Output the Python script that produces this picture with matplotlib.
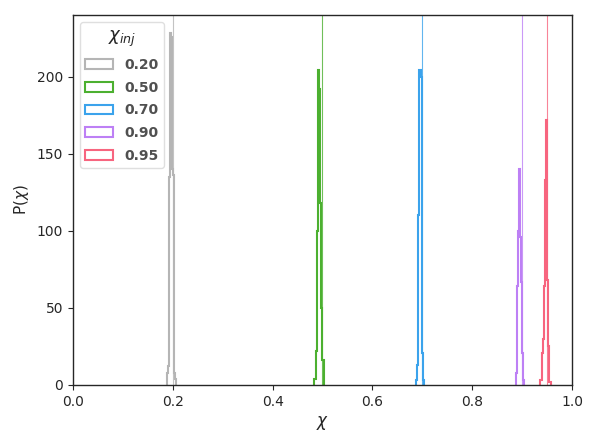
import numpy as np
import matplotlib
matplotlib.use("Agg")
import matplotlib.pyplot as plt
import seaborn as sns

sns.set_style("ticks")
plt.rcParams['font.family'] = ['DejaVu Sans']

chi_inj = [0.20, 0.50, 0.70, 0.90, 0.95]
labels = ["0.20", "0.50", "0.70", "0.90", "0.95"]
colors = ["#b5b5b5", "#4cb030", "#3ba3ec", "#bd80f5", "#f7657f"]

edges_020 = [0.188, 0.190, 0.192, 0.194, 0.196, 0.198, 0.200, 0.202, 0.204, 0.206]
dens_020 = [8, 12, 135, 228, 226, 140, 136, 8, 4]

edges_050 = [0.4835, 0.4865, 0.489, 0.4915, 0.4935, 0.4955, 0.4975, 0.4995, 0.5025]
dens_050 = [4, 22, 100, 204, 192, 118, 50, 16]

edges_070 = [0.6875, 0.689, 0.6905, 0.692, 0.694, 0.6965, 0.6985, 0.700, 0.7015, 0.703]
dens_070 = [3, 13, 39, 110, 204, 200, 104, 21, 3]

edges_090 = [0.8875, 0.889, 0.8905, 0.892, 0.8935, 0.895, 0.8965, 0.898, 0.8995, 0.901, 0.9025, 0.904]
dens_090 = [8, 21, 64, 100, 140, 138, 96, 67, 21, 8, 3]

edges_095 = [0.9365, 0.9395, 0.9415, 0.9435, 0.9455, 0.9475, 0.9505, 0.9525, 0.954, 0.957]
dens_095 = [3, 21, 30, 64, 133, 172, 68, 25, 2]

all_edges = [edges_020, edges_050, edges_070, edges_090, edges_095]
all_dens = [dens_020, dens_050, dens_070, dens_090, dens_095]

fig = plt.figure(figsize=(5.92, 4.46), dpi=100)
ax = fig.add_axes([0.1233, 0.1368, 0.9662 - 0.1233, 0.9664 - 0.1368])

for e, d, c, lab, v in zip(all_edges, all_dens, colors, labels, chi_inj):
    e = np.asarray(e)
    centers = 0.5 * (e[:-1] + e[1:])
    ax.hist(centers, bins=e, weights=d, histtype='step', color=c, lw=1.5, label=lab)
    ax.axvline(v, color=c, lw=0.8, alpha=0.8)

ax.set_xlim(0, 1)
ax.set_ylim(0, 240)
ax.set_xticks([0.0, 0.2, 0.4, 0.6, 0.8, 1.0])
ax.set_yticks([0, 50, 100, 150, 200])
ax.tick_params(labelsize=10, colors='#262626')
ax.set_xlabel(r"$\chi$", fontsize=12, color='#262626')
ax.set_ylabel(r"P($\chi$)", fontsize=11, color='#262626')
for s in ax.spines.values():
    s.set_color('#262626')
    s.set_linewidth(1.0)

leg = ax.legend(title=r"$\chi_{inj}$", loc='upper left', fontsize=10,
                title_fontsize=13, frameon=True, fancybox=True,
                borderaxespad=0.5, handlelength=2.0, labelspacing=0.62,
                prop={'size': 10, 'weight': 'bold'})
for t in leg.get_texts():
    t.set_color('#505050')
leg.get_frame().set_edgecolor('#d8d8d8')

fig.savefig("out.png", dpi=100)
